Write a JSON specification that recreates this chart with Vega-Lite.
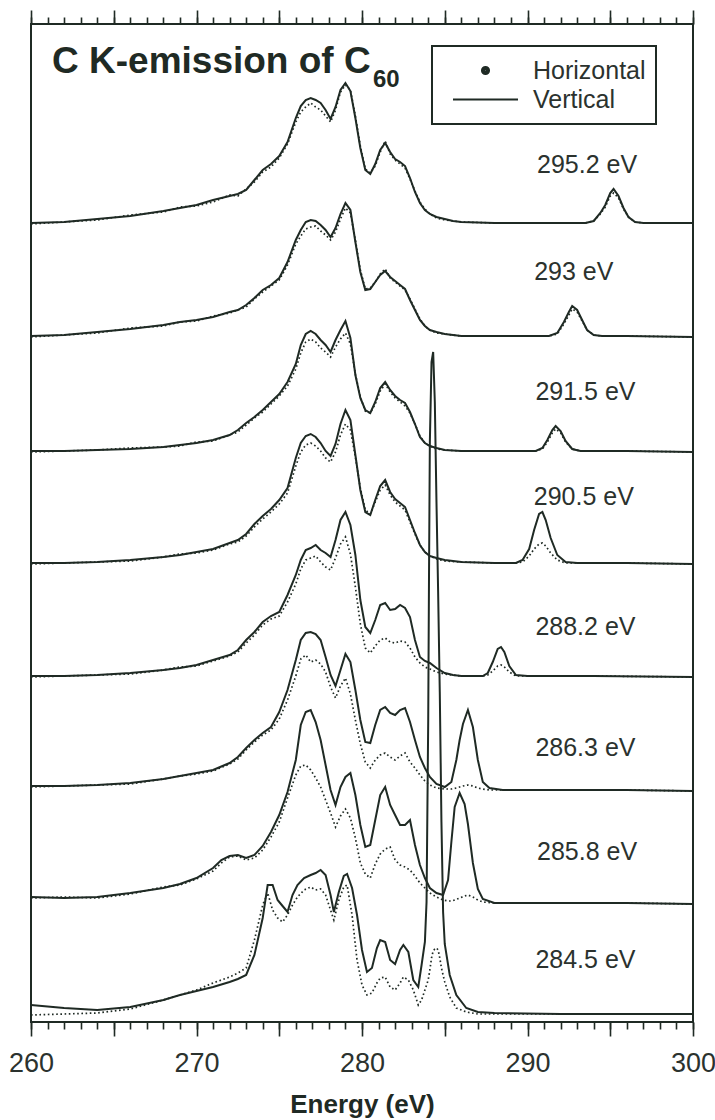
{
  "$schema": "https://vega.github.io/schema/vega-lite/v6.json",
  "width": 662,
  "height": 998,
  "autosize": {"type": "none"},
  "padding": {"left": 31, "top": 24, "right": 22, "bottom": 98},
  "background": "white",
  "config": {
    "view": {"stroke": "#1f2a24", "strokeWidth": 2},
    "axis": {"grid": false, "domain": false, "tickColor": "#1f2a24", "tickWidth": 1.6},
    "legend": {"strokeWidth": 2},
    "font": "Liberation Sans"
  },
  "datasets": {
    "labels": [
      {"label": "295.2 eV", "E": 293.6, "I": 85.7},
      {"label": "293 eV", "E": 292.8, "I": 75.0},
      {"label": "291.5 eV", "E": 293.5, "I": 63.0},
      {"label": "290.5 eV", "E": 293.4, "I": 52.5},
      {"label": "288.2 eV", "E": 293.5, "I": 39.5},
      {"label": "286.3 eV", "E": 293.5, "I": 27.4},
      {"label": "285.8 eV", "E": 293.6, "I": 17.0},
      {"label": "284.5 eV", "E": 293.5, "I": 6.2}
    ],
    "spectra": [
      {"run": "295.2 eV", "E": 260, "Vertical": 79.9, "Horizontal": 79.8},
      {"run": "295.2 eV", "E": 262, "Vertical": 80.0, "Horizontal": 80.0},
      {"run": "295.2 eV", "E": 264, "Vertical": 80.3, "Horizontal": 80.2},
      {"run": "295.2 eV", "E": 266, "Vertical": 80.6, "Horizontal": 80.7},
      {"run": "295.2 eV", "E": 268, "Vertical": 81.1, "Horizontal": 81.0},
      {"run": "295.2 eV", "E": 269, "Vertical": 81.4, "Horizontal": 81.5},
      {"run": "295.2 eV", "E": 270, "Vertical": 81.7, "Horizontal": 81.6},
      {"run": "295.2 eV", "E": 271, "Vertical": 82.2, "Horizontal": 82.0},
      {"run": "295.2 eV", "E": 272, "Vertical": 82.6, "Horizontal": 82.7},
      {"run": "295.2 eV", "E": 272.5, "Vertical": 82.8, "Horizontal": 82.6},
      {"run": "295.2 eV", "E": 273, "Vertical": 83.2, "Horizontal": 83.3},
      {"run": "295.2 eV", "E": 273.5, "Vertical": 84.2, "Horizontal": 84.0},
      {"run": "295.2 eV", "E": 274, "Vertical": 85.2, "Horizontal": 85.0},
      {"run": "295.2 eV", "E": 274.5, "Vertical": 85.8, "Horizontal": 85.5},
      {"run": "295.2 eV", "E": 275, "Vertical": 86.6, "Horizontal": 86.4},
      {"run": "295.2 eV", "E": 275.5, "Vertical": 88.0, "Horizontal": 87.8},
      {"run": "295.2 eV", "E": 276, "Vertical": 90.4, "Horizontal": 90.0},
      {"run": "295.2 eV", "E": 276.3, "Vertical": 91.6, "Horizontal": 91.0},
      {"run": "295.2 eV", "E": 276.6, "Vertical": 92.2, "Horizontal": 91.5},
      {"run": "295.2 eV", "E": 276.9, "Vertical": 92.4, "Horizontal": 91.9},
      {"run": "295.2 eV", "E": 277.2, "Vertical": 92.2, "Horizontal": 91.5},
      {"run": "295.2 eV", "E": 277.5, "Vertical": 91.9, "Horizontal": 91.2},
      {"run": "295.2 eV", "E": 277.8, "Vertical": 91.2, "Horizontal": 90.6},
      {"run": "295.2 eV", "E": 278.1, "Vertical": 90.3, "Horizontal": 90.0},
      {"run": "295.2 eV", "E": 278.4, "Vertical": 91.5, "Horizontal": 91.2},
      {"run": "295.2 eV", "E": 278.7, "Vertical": 93.2, "Horizontal": 93.0},
      {"run": "295.2 eV", "E": 279.0, "Vertical": 93.9, "Horizontal": 93.7},
      {"run": "295.2 eV", "E": 279.3, "Vertical": 93.1, "Horizontal": 93.2},
      {"run": "295.2 eV", "E": 279.6, "Vertical": 90.4, "Horizontal": 90.6},
      {"run": "295.2 eV", "E": 279.9, "Vertical": 87.4, "Horizontal": 87.6},
      {"run": "295.2 eV", "E": 280.2, "Vertical": 85.2, "Horizontal": 85.3},
      {"run": "295.2 eV", "E": 280.5, "Vertical": 84.8, "Horizontal": 84.9},
      {"run": "295.2 eV", "E": 280.8, "Vertical": 85.8, "Horizontal": 85.6},
      {"run": "295.2 eV", "E": 281.1, "Vertical": 87.2, "Horizontal": 87.0},
      {"run": "295.2 eV", "E": 281.4, "Vertical": 87.9, "Horizontal": 88.1},
      {"run": "295.2 eV", "E": 281.7, "Vertical": 87.0, "Horizontal": 86.8},
      {"run": "295.2 eV", "E": 282.0, "Vertical": 86.3, "Horizontal": 86.2},
      {"run": "295.2 eV", "E": 282.3, "Vertical": 86.0, "Horizontal": 85.8},
      {"run": "295.2 eV", "E": 282.6, "Vertical": 85.6, "Horizontal": 85.4},
      {"run": "295.2 eV", "E": 282.9, "Vertical": 84.4, "Horizontal": 84.3},
      {"run": "295.2 eV", "E": 283.2, "Vertical": 83.0, "Horizontal": 83.1},
      {"run": "295.2 eV", "E": 283.5, "Vertical": 81.9, "Horizontal": 82.0},
      {"run": "295.2 eV", "E": 283.8, "Vertical": 81.2, "Horizontal": 81.3},
      {"run": "295.2 eV", "E": 284.1, "Vertical": 80.8, "Horizontal": 80.8},
      {"run": "295.2 eV", "E": 284.5, "Vertical": 80.5, "Horizontal": 80.4},
      {"run": "295.2 eV", "E": 285, "Vertical": 80.3, "Horizontal": 80.2},
      {"run": "295.2 eV", "E": 285.5, "Vertical": 80.1, "Horizontal": 80.1},
      {"run": "295.2 eV", "E": 286, "Vertical": 80.0, "Horizontal": 80.0},
      {"run": "295.2 eV", "E": 288, "Vertical": 79.9, "Horizontal": 79.9},
      {"run": "295.2 eV", "E": 290, "Vertical": 79.9, "Horizontal": 79.9},
      {"run": "295.2 eV", "E": 292, "Vertical": 79.9, "Horizontal": 79.9},
      {"run": "295.2 eV", "E": 293.5, "Vertical": 79.9, "Horizontal": 79.9},
      {"run": "295.2 eV", "E": 294.0, "Vertical": 80.1, "Horizontal": 80.1},
      {"run": "295.2 eV", "E": 294.4, "Vertical": 80.9, "Horizontal": 80.8},
      {"run": "295.2 eV", "E": 294.7, "Vertical": 81.7, "Horizontal": 81.5},
      {"run": "295.2 eV", "E": 295.0, "Vertical": 82.9, "Horizontal": 82.6},
      {"run": "295.2 eV", "E": 295.2, "Vertical": 83.3, "Horizontal": 82.9},
      {"run": "295.2 eV", "E": 295.5, "Vertical": 82.6, "Horizontal": 82.4},
      {"run": "295.2 eV", "E": 295.8, "Vertical": 81.4, "Horizontal": 81.3},
      {"run": "295.2 eV", "E": 296.1, "Vertical": 80.5, "Horizontal": 80.5},
      {"run": "295.2 eV", "E": 296.5, "Vertical": 80.0, "Horizontal": 80.0},
      {"run": "295.2 eV", "E": 297, "Vertical": 79.9, "Horizontal": 79.9},
      {"run": "295.2 eV", "E": 300, "Vertical": 79.9, "Horizontal": 79.9},

      {"run": "293 eV", "E": 260, "Vertical": 68.6, "Horizontal": 68.5},
      {"run": "293 eV", "E": 262, "Vertical": 68.7, "Horizontal": 68.7},
      {"run": "293 eV", "E": 264, "Vertical": 69.0, "Horizontal": 68.9},
      {"run": "293 eV", "E": 266, "Vertical": 69.3, "Horizontal": 69.4},
      {"run": "293 eV", "E": 268, "Vertical": 69.7, "Horizontal": 69.6},
      {"run": "293 eV", "E": 269, "Vertical": 70.0, "Horizontal": 70.0},
      {"run": "293 eV", "E": 270, "Vertical": 70.2, "Horizontal": 70.1},
      {"run": "293 eV", "E": 271, "Vertical": 70.5, "Horizontal": 70.6},
      {"run": "293 eV", "E": 272, "Vertical": 71.0, "Horizontal": 70.9},
      {"run": "293 eV", "E": 272.5, "Vertical": 71.2, "Horizontal": 71.2},
      {"run": "293 eV", "E": 273, "Vertical": 71.7, "Horizontal": 71.5},
      {"run": "293 eV", "E": 273.5, "Vertical": 72.4, "Horizontal": 72.3},
      {"run": "293 eV", "E": 274, "Vertical": 73.2, "Horizontal": 73.0},
      {"run": "293 eV", "E": 274.5, "Vertical": 73.7, "Horizontal": 73.6},
      {"run": "293 eV", "E": 275, "Vertical": 74.4, "Horizontal": 74.2},
      {"run": "293 eV", "E": 275.5, "Vertical": 76.0, "Horizontal": 75.7},
      {"run": "293 eV", "E": 276, "Vertical": 78.2, "Horizontal": 77.8},
      {"run": "293 eV", "E": 276.3, "Vertical": 79.2, "Horizontal": 78.6},
      {"run": "293 eV", "E": 276.6, "Vertical": 80.0, "Horizontal": 79.3},
      {"run": "293 eV", "E": 276.9, "Vertical": 80.2, "Horizontal": 79.5},
      {"run": "293 eV", "E": 277.2, "Vertical": 80.1, "Horizontal": 79.6},
      {"run": "293 eV", "E": 277.5, "Vertical": 79.7, "Horizontal": 79.1},
      {"run": "293 eV", "E": 277.8, "Vertical": 79.2, "Horizontal": 78.7},
      {"run": "293 eV", "E": 278.1, "Vertical": 78.5, "Horizontal": 78.2},
      {"run": "293 eV", "E": 278.4, "Vertical": 79.4, "Horizontal": 79.0},
      {"run": "293 eV", "E": 278.7, "Vertical": 80.8, "Horizontal": 80.3},
      {"run": "293 eV", "E": 279.0, "Vertical": 81.9, "Horizontal": 81.4},
      {"run": "293 eV", "E": 279.3, "Vertical": 81.2, "Horizontal": 80.9},
      {"run": "293 eV", "E": 279.6, "Vertical": 78.0, "Horizontal": 78.2},
      {"run": "293 eV", "E": 279.9, "Vertical": 75.0, "Horizontal": 75.2},
      {"run": "293 eV", "E": 280.2, "Vertical": 73.2, "Horizontal": 73.3},
      {"run": "293 eV", "E": 280.5, "Vertical": 73.3, "Horizontal": 73.4},
      {"run": "293 eV", "E": 280.8, "Vertical": 74.0, "Horizontal": 74.0},
      {"run": "293 eV", "E": 281.1, "Vertical": 74.7, "Horizontal": 74.8},
      {"run": "293 eV", "E": 281.4, "Vertical": 75.1, "Horizontal": 75.3},
      {"run": "293 eV", "E": 281.7, "Vertical": 74.5, "Horizontal": 74.4},
      {"run": "293 eV", "E": 282.0, "Vertical": 74.1, "Horizontal": 74.0},
      {"run": "293 eV", "E": 282.3, "Vertical": 73.7, "Horizontal": 73.6},
      {"run": "293 eV", "E": 282.6, "Vertical": 73.3, "Horizontal": 73.2},
      {"run": "293 eV", "E": 282.9, "Vertical": 72.2, "Horizontal": 72.3},
      {"run": "293 eV", "E": 283.2, "Vertical": 71.2, "Horizontal": 71.3},
      {"run": "293 eV", "E": 283.5, "Vertical": 70.2, "Horizontal": 70.3},
      {"run": "293 eV", "E": 283.8, "Vertical": 69.6, "Horizontal": 69.6},
      {"run": "293 eV", "E": 284.1, "Vertical": 69.2, "Horizontal": 69.2},
      {"run": "293 eV", "E": 284.5, "Vertical": 69.0, "Horizontal": 68.9},
      {"run": "293 eV", "E": 285, "Vertical": 68.8, "Horizontal": 68.8},
      {"run": "293 eV", "E": 285.5, "Vertical": 68.7, "Horizontal": 68.7},
      {"run": "293 eV", "E": 286, "Vertical": 68.6, "Horizontal": 68.6},
      {"run": "293 eV", "E": 288, "Vertical": 68.6, "Horizontal": 68.6},
      {"run": "293 eV", "E": 290, "Vertical": 68.6, "Horizontal": 68.6},
      {"run": "293 eV", "E": 291.3, "Vertical": 68.6, "Horizontal": 68.6},
      {"run": "293 eV", "E": 291.8, "Vertical": 68.9, "Horizontal": 68.8},
      {"run": "293 eV", "E": 292.2, "Vertical": 70.0, "Horizontal": 69.8},
      {"run": "293 eV", "E": 292.5, "Vertical": 71.0, "Horizontal": 70.7},
      {"run": "293 eV", "E": 292.7, "Vertical": 71.6, "Horizontal": 71.3},
      {"run": "293 eV", "E": 293.0, "Vertical": 71.2, "Horizontal": 71.0},
      {"run": "293 eV", "E": 293.3, "Vertical": 70.2, "Horizontal": 70.1},
      {"run": "293 eV", "E": 293.6, "Vertical": 69.2, "Horizontal": 69.2},
      {"run": "293 eV", "E": 294.0, "Vertical": 68.7, "Horizontal": 68.7},
      {"run": "293 eV", "E": 294.5, "Vertical": 68.6, "Horizontal": 68.6},
      {"run": "293 eV", "E": 296, "Vertical": 68.6, "Horizontal": 68.6},
      {"run": "293 eV", "E": 300, "Vertical": 68.5, "Horizontal": 68.5},

      {"run": "291.5 eV", "E": 260, "Vertical": 57.1, "Horizontal": 57.0},
      {"run": "291.5 eV", "E": 262, "Vertical": 57.1, "Horizontal": 57.1},
      {"run": "291.5 eV", "E": 264, "Vertical": 57.2, "Horizontal": 57.2},
      {"run": "291.5 eV", "E": 266, "Vertical": 57.3, "Horizontal": 57.4},
      {"run": "291.5 eV", "E": 268, "Vertical": 57.5, "Horizontal": 57.5},
      {"run": "291.5 eV", "E": 269, "Vertical": 57.7, "Horizontal": 57.6},
      {"run": "291.5 eV", "E": 270, "Vertical": 57.9, "Horizontal": 58.0},
      {"run": "291.5 eV", "E": 271, "Vertical": 58.2, "Horizontal": 58.1},
      {"run": "291.5 eV", "E": 272, "Vertical": 58.7, "Horizontal": 58.7},
      {"run": "291.5 eV", "E": 272.5, "Vertical": 59.2, "Horizontal": 59.0},
      {"run": "291.5 eV", "E": 273, "Vertical": 59.9, "Horizontal": 59.7},
      {"run": "291.5 eV", "E": 273.5, "Vertical": 60.5, "Horizontal": 60.4},
      {"run": "291.5 eV", "E": 274, "Vertical": 61.2, "Horizontal": 61.0},
      {"run": "291.5 eV", "E": 274.5, "Vertical": 62.0, "Horizontal": 61.8},
      {"run": "291.5 eV", "E": 275, "Vertical": 62.8, "Horizontal": 62.6},
      {"run": "291.5 eV", "E": 275.5, "Vertical": 64.0, "Horizontal": 63.6},
      {"run": "291.5 eV", "E": 276, "Vertical": 65.8, "Horizontal": 65.3},
      {"run": "291.5 eV", "E": 276.3, "Vertical": 67.7, "Horizontal": 66.9},
      {"run": "291.5 eV", "E": 276.6, "Vertical": 68.8, "Horizontal": 68.0},
      {"run": "291.5 eV", "E": 276.9, "Vertical": 69.1, "Horizontal": 68.3},
      {"run": "291.5 eV", "E": 277.2, "Vertical": 68.8, "Horizontal": 68.0},
      {"run": "291.5 eV", "E": 277.5, "Vertical": 68.2, "Horizontal": 67.4},
      {"run": "291.5 eV", "E": 277.8, "Vertical": 67.7, "Horizontal": 67.0},
      {"run": "291.5 eV", "E": 278.1, "Vertical": 67.0, "Horizontal": 66.5},
      {"run": "291.5 eV", "E": 278.4, "Vertical": 68.2, "Horizontal": 67.5},
      {"run": "291.5 eV", "E": 278.7, "Vertical": 69.2, "Horizontal": 68.3},
      {"run": "291.5 eV", "E": 279.0, "Vertical": 70.1, "Horizontal": 68.9},
      {"run": "291.5 eV", "E": 279.3, "Vertical": 68.4, "Horizontal": 67.8},
      {"run": "291.5 eV", "E": 279.6, "Vertical": 64.7, "Horizontal": 64.8},
      {"run": "291.5 eV", "E": 279.9, "Vertical": 62.4, "Horizontal": 62.5},
      {"run": "291.5 eV", "E": 280.2, "Vertical": 61.2, "Horizontal": 61.1},
      {"run": "291.5 eV", "E": 280.5, "Vertical": 60.9, "Horizontal": 60.9},
      {"run": "291.5 eV", "E": 280.8, "Vertical": 62.0, "Horizontal": 61.8},
      {"run": "291.5 eV", "E": 281.1, "Vertical": 63.4, "Horizontal": 63.1},
      {"run": "291.5 eV", "E": 281.4, "Vertical": 64.0, "Horizontal": 63.8},
      {"run": "291.5 eV", "E": 281.7, "Vertical": 63.2, "Horizontal": 63.0},
      {"run": "291.5 eV", "E": 282.0, "Vertical": 62.6, "Horizontal": 62.4},
      {"run": "291.5 eV", "E": 282.3, "Vertical": 62.2, "Horizontal": 62.0},
      {"run": "291.5 eV", "E": 282.6, "Vertical": 61.9, "Horizontal": 61.6},
      {"run": "291.5 eV", "E": 282.9, "Vertical": 61.0, "Horizontal": 60.9},
      {"run": "291.5 eV", "E": 283.2, "Vertical": 59.8, "Horizontal": 59.8},
      {"run": "291.5 eV", "E": 283.5, "Vertical": 58.5, "Horizontal": 58.6},
      {"run": "291.5 eV", "E": 283.8, "Vertical": 57.9, "Horizontal": 57.9},
      {"run": "291.5 eV", "E": 284.1, "Vertical": 57.6, "Horizontal": 57.6},
      {"run": "291.5 eV", "E": 284.5, "Vertical": 57.4, "Horizontal": 57.3},
      {"run": "291.5 eV", "E": 285, "Vertical": 57.2, "Horizontal": 57.2},
      {"run": "291.5 eV", "E": 286, "Vertical": 57.1, "Horizontal": 57.1},
      {"run": "291.5 eV", "E": 288, "Vertical": 57.1, "Horizontal": 57.1},
      {"run": "291.5 eV", "E": 290, "Vertical": 57.1, "Horizontal": 57.1},
      {"run": "291.5 eV", "E": 290.5, "Vertical": 57.1, "Horizontal": 57.1},
      {"run": "291.5 eV", "E": 290.9, "Vertical": 57.4, "Horizontal": 57.3},
      {"run": "291.5 eV", "E": 291.2, "Vertical": 58.2, "Horizontal": 58.0},
      {"run": "291.5 eV", "E": 291.5, "Vertical": 59.2, "Horizontal": 58.9},
      {"run": "291.5 eV", "E": 291.7, "Vertical": 59.6, "Horizontal": 59.3},
      {"run": "291.5 eV", "E": 292.0, "Vertical": 59.1, "Horizontal": 58.9},
      {"run": "291.5 eV", "E": 292.3, "Vertical": 58.1, "Horizontal": 58.0},
      {"run": "291.5 eV", "E": 292.7, "Vertical": 57.3, "Horizontal": 57.3},
      {"run": "291.5 eV", "E": 293.2, "Vertical": 57.1, "Horizontal": 57.1},
      {"run": "291.5 eV", "E": 296, "Vertical": 57.1, "Horizontal": 57.1},
      {"run": "291.5 eV", "E": 300, "Vertical": 57.0, "Horizontal": 57.0},

      {"run": "290.5 eV", "E": 260, "Vertical": 45.9, "Horizontal": 45.8},
      {"run": "290.5 eV", "E": 262, "Vertical": 45.9, "Horizontal": 45.9},
      {"run": "290.5 eV", "E": 264, "Vertical": 46.0, "Horizontal": 46.0},
      {"run": "290.5 eV", "E": 266, "Vertical": 46.2, "Horizontal": 46.1},
      {"run": "290.5 eV", "E": 268, "Vertical": 46.5, "Horizontal": 46.5},
      {"run": "290.5 eV", "E": 269, "Vertical": 46.7, "Horizontal": 46.8},
      {"run": "290.5 eV", "E": 270, "Vertical": 47.0, "Horizontal": 46.9},
      {"run": "290.5 eV", "E": 271, "Vertical": 47.3, "Horizontal": 47.2},
      {"run": "290.5 eV", "E": 272, "Vertical": 47.9, "Horizontal": 47.8},
      {"run": "290.5 eV", "E": 272.5, "Vertical": 48.2, "Horizontal": 48.0},
      {"run": "290.5 eV", "E": 273, "Vertical": 48.8, "Horizontal": 48.6},
      {"run": "290.5 eV", "E": 273.5, "Vertical": 49.8, "Horizontal": 49.5},
      {"run": "290.5 eV", "E": 274, "Vertical": 50.6, "Horizontal": 50.3},
      {"run": "290.5 eV", "E": 274.5, "Vertical": 51.3, "Horizontal": 51.0},
      {"run": "290.5 eV", "E": 275, "Vertical": 52.2, "Horizontal": 51.8},
      {"run": "290.5 eV", "E": 275.5, "Vertical": 53.4, "Horizontal": 52.9},
      {"run": "290.5 eV", "E": 276, "Vertical": 56.4, "Horizontal": 55.6},
      {"run": "290.5 eV", "E": 276.3, "Vertical": 57.9, "Horizontal": 57.0},
      {"run": "290.5 eV", "E": 276.6, "Vertical": 58.6, "Horizontal": 57.7},
      {"run": "290.5 eV", "E": 276.9, "Vertical": 58.8, "Horizontal": 57.9},
      {"run": "290.5 eV", "E": 277.2, "Vertical": 58.5, "Horizontal": 57.6},
      {"run": "290.5 eV", "E": 277.5, "Vertical": 57.9, "Horizontal": 57.1},
      {"run": "290.5 eV", "E": 277.8, "Vertical": 57.1, "Horizontal": 56.4},
      {"run": "290.5 eV", "E": 278.1, "Vertical": 56.6, "Horizontal": 56.0},
      {"run": "290.5 eV", "E": 278.4, "Vertical": 57.8, "Horizontal": 57.0},
      {"run": "290.5 eV", "E": 278.7, "Vertical": 59.8, "Horizontal": 58.7},
      {"run": "290.5 eV", "E": 279.0, "Vertical": 61.2, "Horizontal": 59.8},
      {"run": "290.5 eV", "E": 279.3, "Vertical": 60.2, "Horizontal": 59.2},
      {"run": "290.5 eV", "E": 279.6, "Vertical": 56.7, "Horizontal": 56.5},
      {"run": "290.5 eV", "E": 279.9, "Vertical": 53.2, "Horizontal": 53.4},
      {"run": "290.5 eV", "E": 280.2, "Vertical": 51.0, "Horizontal": 51.2},
      {"run": "290.5 eV", "E": 280.5, "Vertical": 50.7, "Horizontal": 50.8},
      {"run": "290.5 eV", "E": 280.8, "Vertical": 52.2, "Horizontal": 52.0},
      {"run": "290.5 eV", "E": 281.1, "Vertical": 53.6, "Horizontal": 53.2},
      {"run": "290.5 eV", "E": 281.4, "Vertical": 54.2, "Horizontal": 53.7},
      {"run": "290.5 eV", "E": 281.7, "Vertical": 53.0, "Horizontal": 52.7},
      {"run": "290.5 eV", "E": 282.0, "Vertical": 52.3, "Horizontal": 52.0},
      {"run": "290.5 eV", "E": 282.3, "Vertical": 51.9, "Horizontal": 51.6},
      {"run": "290.5 eV", "E": 282.6, "Vertical": 51.5, "Horizontal": 51.2},
      {"run": "290.5 eV", "E": 282.9, "Vertical": 50.2, "Horizontal": 50.0},
      {"run": "290.5 eV", "E": 283.2, "Vertical": 48.9, "Horizontal": 48.8},
      {"run": "290.5 eV", "E": 283.5, "Vertical": 47.7, "Horizontal": 47.7},
      {"run": "290.5 eV", "E": 283.8, "Vertical": 47.0, "Horizontal": 47.0},
      {"run": "290.5 eV", "E": 284.1, "Vertical": 46.6, "Horizontal": 46.6},
      {"run": "290.5 eV", "E": 284.5, "Vertical": 46.4, "Horizontal": 46.3},
      {"run": "290.5 eV", "E": 285, "Vertical": 46.2, "Horizontal": 46.1},
      {"run": "290.5 eV", "E": 286, "Vertical": 46.0, "Horizontal": 46.0},
      {"run": "290.5 eV", "E": 288, "Vertical": 45.9, "Horizontal": 45.9},
      {"run": "290.5 eV", "E": 289.3, "Vertical": 45.9, "Horizontal": 45.9},
      {"run": "290.5 eV", "E": 289.7, "Vertical": 46.2, "Horizontal": 46.0},
      {"run": "290.5 eV", "E": 290.1, "Vertical": 47.3, "Horizontal": 46.6},
      {"run": "290.5 eV", "E": 290.4, "Vertical": 49.2, "Horizontal": 47.3},
      {"run": "290.5 eV", "E": 290.7, "Vertical": 50.8, "Horizontal": 47.8},
      {"run": "290.5 eV", "E": 290.9, "Vertical": 51.0, "Horizontal": 47.9},
      {"run": "290.5 eV", "E": 291.1, "Vertical": 50.2, "Horizontal": 47.6},
      {"run": "290.5 eV", "E": 291.4, "Vertical": 48.4, "Horizontal": 46.9},
      {"run": "290.5 eV", "E": 291.8, "Vertical": 46.7, "Horizontal": 46.2},
      {"run": "290.5 eV", "E": 292.3, "Vertical": 46.0, "Horizontal": 45.9},
      {"run": "290.5 eV", "E": 293, "Vertical": 45.9, "Horizontal": 45.9},
      {"run": "290.5 eV", "E": 296, "Vertical": 45.9, "Horizontal": 45.9},
      {"run": "290.5 eV", "E": 300, "Vertical": 45.8, "Horizontal": 45.8},

      {"run": "288.2 eV", "E": 260, "Vertical": 34.6, "Horizontal": 34.5},
      {"run": "288.2 eV", "E": 262, "Vertical": 34.6, "Horizontal": 34.6},
      {"run": "288.2 eV", "E": 264, "Vertical": 34.7, "Horizontal": 34.7},
      {"run": "288.2 eV", "E": 266, "Vertical": 34.9, "Horizontal": 34.8},
      {"run": "288.2 eV", "E": 268, "Vertical": 35.2, "Horizontal": 35.2},
      {"run": "288.2 eV", "E": 269, "Vertical": 35.4, "Horizontal": 35.5},
      {"run": "288.2 eV", "E": 270, "Vertical": 35.7, "Horizontal": 35.6},
      {"run": "288.2 eV", "E": 271, "Vertical": 36.2, "Horizontal": 36.1},
      {"run": "288.2 eV", "E": 272, "Vertical": 36.7, "Horizontal": 36.6},
      {"run": "288.2 eV", "E": 272.5, "Vertical": 37.2, "Horizontal": 37.0},
      {"run": "288.2 eV", "E": 273, "Vertical": 38.2, "Horizontal": 37.9},
      {"run": "288.2 eV", "E": 273.5, "Vertical": 39.0, "Horizontal": 38.7},
      {"run": "288.2 eV", "E": 274, "Vertical": 40.0, "Horizontal": 39.7},
      {"run": "288.2 eV", "E": 274.5, "Vertical": 40.6, "Horizontal": 40.3},
      {"run": "288.2 eV", "E": 275, "Vertical": 41.0, "Horizontal": 40.6},
      {"run": "288.2 eV", "E": 275.5, "Vertical": 42.7, "Horizontal": 42.0},
      {"run": "288.2 eV", "E": 276, "Vertical": 44.7, "Horizontal": 43.8},
      {"run": "288.2 eV", "E": 276.3, "Vertical": 46.2, "Horizontal": 45.3},
      {"run": "288.2 eV", "E": 276.6, "Vertical": 47.2, "Horizontal": 46.2},
      {"run": "288.2 eV", "E": 276.9, "Vertical": 47.4, "Horizontal": 46.4},
      {"run": "288.2 eV", "E": 277.2, "Vertical": 47.7, "Horizontal": 46.6},
      {"run": "288.2 eV", "E": 277.5, "Vertical": 47.2, "Horizontal": 46.0},
      {"run": "288.2 eV", "E": 277.8, "Vertical": 46.9, "Horizontal": 45.5},
      {"run": "288.2 eV", "E": 278.1, "Vertical": 46.5, "Horizontal": 45.2},
      {"run": "288.2 eV", "E": 278.4, "Vertical": 48.2, "Horizontal": 46.4},
      {"run": "288.2 eV", "E": 278.7, "Vertical": 50.2, "Horizontal": 47.8},
      {"run": "288.2 eV", "E": 279.0, "Vertical": 51.0, "Horizontal": 48.5},
      {"run": "288.2 eV", "E": 279.3, "Vertical": 49.7, "Horizontal": 46.8},
      {"run": "288.2 eV", "E": 279.6, "Vertical": 46.7, "Horizontal": 43.5},
      {"run": "288.2 eV", "E": 279.9, "Vertical": 42.2, "Horizontal": 39.8},
      {"run": "288.2 eV", "E": 280.2, "Vertical": 39.5, "Horizontal": 37.4},
      {"run": "288.2 eV", "E": 280.5, "Vertical": 38.9, "Horizontal": 36.9},
      {"run": "288.2 eV", "E": 280.8, "Vertical": 40.2, "Horizontal": 37.6},
      {"run": "288.2 eV", "E": 281.1, "Vertical": 41.7, "Horizontal": 38.2},
      {"run": "288.2 eV", "E": 281.4, "Vertical": 41.9, "Horizontal": 38.4},
      {"run": "288.2 eV", "E": 281.7, "Vertical": 41.2, "Horizontal": 38.0},
      {"run": "288.2 eV", "E": 282.0, "Vertical": 41.3, "Horizontal": 37.9},
      {"run": "288.2 eV", "E": 282.3, "Vertical": 41.7, "Horizontal": 38.1},
      {"run": "288.2 eV", "E": 282.6, "Vertical": 41.4, "Horizontal": 38.0},
      {"run": "288.2 eV", "E": 282.9, "Vertical": 40.5, "Horizontal": 37.4},
      {"run": "288.2 eV", "E": 283.2, "Vertical": 38.2, "Horizontal": 36.5},
      {"run": "288.2 eV", "E": 283.5, "Vertical": 36.5, "Horizontal": 35.9},
      {"run": "288.2 eV", "E": 283.8, "Vertical": 36.1, "Horizontal": 35.5},
      {"run": "288.2 eV", "E": 284.1, "Vertical": 35.9, "Horizontal": 35.3},
      {"run": "288.2 eV", "E": 284.5, "Vertical": 35.4, "Horizontal": 35.0},
      {"run": "288.2 eV", "E": 285, "Vertical": 34.9, "Horizontal": 34.8},
      {"run": "288.2 eV", "E": 285.5, "Vertical": 34.7, "Horizontal": 34.7},
      {"run": "288.2 eV", "E": 286, "Vertical": 34.6, "Horizontal": 34.6},
      {"run": "288.2 eV", "E": 287.3, "Vertical": 34.6, "Horizontal": 34.6},
      {"run": "288.2 eV", "E": 287.6, "Vertical": 34.9, "Horizontal": 34.7},
      {"run": "288.2 eV", "E": 287.9, "Vertical": 36.0, "Horizontal": 35.1},
      {"run": "288.2 eV", "E": 288.2, "Vertical": 37.3, "Horizontal": 35.6},
      {"run": "288.2 eV", "E": 288.4, "Vertical": 37.5, "Horizontal": 35.7},
      {"run": "288.2 eV", "E": 288.6, "Vertical": 37.0, "Horizontal": 35.5},
      {"run": "288.2 eV", "E": 288.9, "Vertical": 35.6, "Horizontal": 35.0},
      {"run": "288.2 eV", "E": 289.3, "Vertical": 34.7, "Horizontal": 34.6},
      {"run": "288.2 eV", "E": 290, "Vertical": 34.6, "Horizontal": 34.6},
      {"run": "288.2 eV", "E": 294, "Vertical": 34.6, "Horizontal": 34.6},
      {"run": "288.2 eV", "E": 300, "Vertical": 34.5, "Horizontal": 34.5},

      {"run": "286.3 eV", "E": 260, "Vertical": 23.6, "Horizontal": 23.5},
      {"run": "286.3 eV", "E": 262, "Vertical": 23.6, "Horizontal": 23.6},
      {"run": "286.3 eV", "E": 264, "Vertical": 23.7, "Horizontal": 23.7},
      {"run": "286.3 eV", "E": 266, "Vertical": 23.9, "Horizontal": 23.8},
      {"run": "286.3 eV", "E": 268, "Vertical": 24.3, "Horizontal": 24.3},
      {"run": "286.3 eV", "E": 269, "Vertical": 24.6, "Horizontal": 24.6},
      {"run": "286.3 eV", "E": 270, "Vertical": 24.9, "Horizontal": 24.8},
      {"run": "286.3 eV", "E": 271, "Vertical": 25.2, "Horizontal": 25.1},
      {"run": "286.3 eV", "E": 272, "Vertical": 25.9, "Horizontal": 25.8},
      {"run": "286.3 eV", "E": 272.5, "Vertical": 26.5, "Horizontal": 26.3},
      {"run": "286.3 eV", "E": 273, "Vertical": 27.4, "Horizontal": 27.2},
      {"run": "286.3 eV", "E": 273.5, "Vertical": 28.2, "Horizontal": 28.0},
      {"run": "286.3 eV", "E": 274, "Vertical": 28.9, "Horizontal": 28.7},
      {"run": "286.3 eV", "E": 274.5, "Vertical": 29.5, "Horizontal": 29.2},
      {"run": "286.3 eV", "E": 275, "Vertical": 31.0, "Horizontal": 30.3},
      {"run": "286.3 eV", "E": 275.5, "Vertical": 33.2, "Horizontal": 32.2},
      {"run": "286.3 eV", "E": 276, "Vertical": 36.2, "Horizontal": 34.6},
      {"run": "286.3 eV", "E": 276.3, "Vertical": 38.2, "Horizontal": 36.3},
      {"run": "286.3 eV", "E": 276.6, "Vertical": 38.9, "Horizontal": 36.7},
      {"run": "286.3 eV", "E": 276.9, "Vertical": 39.0, "Horizontal": 36.0},
      {"run": "286.3 eV", "E": 277.2, "Vertical": 38.8, "Horizontal": 36.2},
      {"run": "286.3 eV", "E": 277.5, "Vertical": 38.2, "Horizontal": 35.8},
      {"run": "286.3 eV", "E": 277.8, "Vertical": 36.5, "Horizontal": 35.0},
      {"run": "286.3 eV", "E": 278.1, "Vertical": 34.7, "Horizontal": 33.5},
      {"run": "286.3 eV", "E": 278.4, "Vertical": 33.6, "Horizontal": 32.4},
      {"run": "286.3 eV", "E": 278.7, "Vertical": 35.2, "Horizontal": 33.6},
      {"run": "286.3 eV", "E": 279.0, "Vertical": 36.8, "Horizontal": 34.4},
      {"run": "286.3 eV", "E": 279.3, "Vertical": 36.0, "Horizontal": 32.8},
      {"run": "286.3 eV", "E": 279.6, "Vertical": 33.2, "Horizontal": 30.2},
      {"run": "286.3 eV", "E": 279.9, "Vertical": 30.2, "Horizontal": 27.8},
      {"run": "286.3 eV", "E": 280.2, "Vertical": 28.0, "Horizontal": 26.0},
      {"run": "286.3 eV", "E": 280.5, "Vertical": 27.9, "Horizontal": 25.4},
      {"run": "286.3 eV", "E": 280.8, "Vertical": 29.7, "Horizontal": 26.2},
      {"run": "286.3 eV", "E": 281.1, "Vertical": 31.2, "Horizontal": 26.7},
      {"run": "286.3 eV", "E": 281.4, "Vertical": 31.5, "Horizontal": 26.9},
      {"run": "286.3 eV", "E": 281.7, "Vertical": 30.9, "Horizontal": 26.5},
      {"run": "286.3 eV", "E": 282.0, "Vertical": 30.7, "Horizontal": 26.2},
      {"run": "286.3 eV", "E": 282.3, "Vertical": 31.2, "Horizontal": 26.6},
      {"run": "286.3 eV", "E": 282.6, "Vertical": 31.4, "Horizontal": 26.9},
      {"run": "286.3 eV", "E": 282.9, "Vertical": 30.0, "Horizontal": 26.0},
      {"run": "286.3 eV", "E": 283.2, "Vertical": 28.2, "Horizontal": 25.4},
      {"run": "286.3 eV", "E": 283.5, "Vertical": 26.5, "Horizontal": 24.7},
      {"run": "286.3 eV", "E": 283.8, "Vertical": 25.4, "Horizontal": 24.1},
      {"run": "286.3 eV", "E": 284.1, "Vertical": 24.5, "Horizontal": 23.7},
      {"run": "286.3 eV", "E": 284.5, "Vertical": 23.8, "Horizontal": 23.4},
      {"run": "286.3 eV", "E": 285.0, "Vertical": 23.5, "Horizontal": 23.3},
      {"run": "286.3 eV", "E": 285.4, "Vertical": 24.0, "Horizontal": 23.3},
      {"run": "286.3 eV", "E": 285.7, "Vertical": 26.2, "Horizontal": 23.4},
      {"run": "286.3 eV", "E": 285.9, "Vertical": 28.2, "Horizontal": 23.5},
      {"run": "286.3 eV", "E": 286.1, "Vertical": 29.8, "Horizontal": 23.6},
      {"run": "286.3 eV", "E": 286.4, "Vertical": 31.2, "Horizontal": 23.7},
      {"run": "286.3 eV", "E": 286.7, "Vertical": 29.5, "Horizontal": 23.6},
      {"run": "286.3 eV", "E": 287.0, "Vertical": 26.2, "Horizontal": 23.4},
      {"run": "286.3 eV", "E": 287.3, "Vertical": 24.0, "Horizontal": 23.3},
      {"run": "286.3 eV", "E": 287.7, "Vertical": 23.4, "Horizontal": 23.2},
      {"run": "286.3 eV", "E": 288.5, "Vertical": 23.2, "Horizontal": 23.2},
      {"run": "286.3 eV", "E": 292, "Vertical": 23.2, "Horizontal": 23.2},
      {"run": "286.3 eV", "E": 296, "Vertical": 23.2, "Horizontal": 23.2},
      {"run": "286.3 eV", "E": 300, "Vertical": 23.1, "Horizontal": 23.1},

      {"run": "285.8 eV", "E": 260, "Vertical": 12.5, "Horizontal": 12.4},
      {"run": "285.8 eV", "E": 262, "Vertical": 12.4, "Horizontal": 12.5},
      {"run": "285.8 eV", "E": 264, "Vertical": 12.5, "Horizontal": 12.4},
      {"run": "285.8 eV", "E": 266, "Vertical": 12.9, "Horizontal": 12.8},
      {"run": "285.8 eV", "E": 268, "Vertical": 13.4, "Horizontal": 13.5},
      {"run": "285.8 eV", "E": 269, "Vertical": 13.8, "Horizontal": 13.7},
      {"run": "285.8 eV", "E": 270, "Vertical": 14.4, "Horizontal": 14.3},
      {"run": "285.8 eV", "E": 271, "Vertical": 15.4, "Horizontal": 15.1},
      {"run": "285.8 eV", "E": 271.5, "Vertical": 16.2, "Horizontal": 15.9},
      {"run": "285.8 eV", "E": 272, "Vertical": 16.6, "Horizontal": 16.5},
      {"run": "285.8 eV", "E": 272.5, "Vertical": 16.7, "Horizontal": 16.6},
      {"run": "285.8 eV", "E": 273, "Vertical": 16.4, "Horizontal": 16.2},
      {"run": "285.8 eV", "E": 273.5, "Vertical": 16.7, "Horizontal": 16.4},
      {"run": "285.8 eV", "E": 274, "Vertical": 17.6, "Horizontal": 17.2},
      {"run": "285.8 eV", "E": 274.5, "Vertical": 19.0, "Horizontal": 18.5},
      {"run": "285.8 eV", "E": 275, "Vertical": 20.7, "Horizontal": 20.0},
      {"run": "285.8 eV", "E": 275.5, "Vertical": 23.0, "Horizontal": 22.4},
      {"run": "285.8 eV", "E": 276, "Vertical": 26.2, "Horizontal": 24.7},
      {"run": "285.8 eV", "E": 276.3, "Vertical": 29.7, "Horizontal": 25.6},
      {"run": "285.8 eV", "E": 276.6, "Vertical": 31.0, "Horizontal": 25.7},
      {"run": "285.8 eV", "E": 276.9, "Vertical": 31.2, "Horizontal": 25.2},
      {"run": "285.8 eV", "E": 277.2, "Vertical": 30.0, "Horizontal": 24.4},
      {"run": "285.8 eV", "E": 277.5, "Vertical": 28.2, "Horizontal": 23.5},
      {"run": "285.8 eV", "E": 277.8, "Vertical": 25.7, "Horizontal": 22.2},
      {"run": "285.8 eV", "E": 278.1, "Vertical": 23.2, "Horizontal": 20.9},
      {"run": "285.8 eV", "E": 278.4, "Vertical": 21.7, "Horizontal": 19.5},
      {"run": "285.8 eV", "E": 278.7, "Vertical": 23.5, "Horizontal": 20.6},
      {"run": "285.8 eV", "E": 279.0, "Vertical": 24.5, "Horizontal": 21.3},
      {"run": "285.8 eV", "E": 279.3, "Vertical": 24.9, "Horizontal": 20.4},
      {"run": "285.8 eV", "E": 279.6, "Vertical": 22.7, "Horizontal": 18.4},
      {"run": "285.8 eV", "E": 279.9, "Vertical": 19.7, "Horizontal": 15.9},
      {"run": "285.8 eV", "E": 280.2, "Vertical": 17.5, "Horizontal": 14.8},
      {"run": "285.8 eV", "E": 280.5, "Vertical": 17.7, "Horizontal": 14.4},
      {"run": "285.8 eV", "E": 280.8, "Vertical": 20.2, "Horizontal": 15.8},
      {"run": "285.8 eV", "E": 281.1, "Vertical": 22.7, "Horizontal": 16.8},
      {"run": "285.8 eV", "E": 281.4, "Vertical": 23.5, "Horizontal": 17.3},
      {"run": "285.8 eV", "E": 281.7, "Vertical": 21.7, "Horizontal": 17.5},
      {"run": "285.8 eV", "E": 282.0, "Vertical": 20.7, "Horizontal": 16.2},
      {"run": "285.8 eV", "E": 282.3, "Vertical": 19.7, "Horizontal": 15.7},
      {"run": "285.8 eV", "E": 282.6, "Vertical": 19.7, "Horizontal": 15.5},
      {"run": "285.8 eV", "E": 282.9, "Vertical": 20.2, "Horizontal": 15.2},
      {"run": "285.8 eV", "E": 283.2, "Vertical": 17.7, "Horizontal": 14.6},
      {"run": "285.8 eV", "E": 283.5, "Vertical": 15.7, "Horizontal": 13.9},
      {"run": "285.8 eV", "E": 283.8, "Vertical": 14.4, "Horizontal": 13.4},
      {"run": "285.8 eV", "E": 284.1, "Vertical": 13.4, "Horizontal": 12.9},
      {"run": "285.8 eV", "E": 284.5, "Vertical": 12.9, "Horizontal": 12.5},
      {"run": "285.8 eV", "E": 284.9, "Vertical": 12.7, "Horizontal": 12.2},
      {"run": "285.8 eV", "E": 285.2, "Vertical": 14.2, "Horizontal": 12.1},
      {"run": "285.8 eV", "E": 285.4, "Vertical": 18.0, "Horizontal": 12.1},
      {"run": "285.8 eV", "E": 285.6, "Vertical": 21.5, "Horizontal": 12.2},
      {"run": "285.8 eV", "E": 285.9, "Vertical": 22.9, "Horizontal": 12.4},
      {"run": "285.8 eV", "E": 286.2, "Vertical": 21.8, "Horizontal": 12.6},
      {"run": "285.8 eV", "E": 286.4, "Vertical": 19.8, "Horizontal": 12.7},
      {"run": "285.8 eV", "E": 286.7, "Vertical": 15.9, "Horizontal": 12.5},
      {"run": "285.8 eV", "E": 287.0, "Vertical": 13.3, "Horizontal": 12.2},
      {"run": "285.8 eV", "E": 287.3, "Vertical": 12.3, "Horizontal": 12.0},
      {"run": "285.8 eV", "E": 288, "Vertical": 11.9, "Horizontal": 11.9},
      {"run": "285.8 eV", "E": 292, "Vertical": 11.9, "Horizontal": 11.9},
      {"run": "285.8 eV", "E": 296, "Vertical": 11.9, "Horizontal": 11.9},
      {"run": "285.8 eV", "E": 300, "Vertical": 11.8, "Horizontal": 11.8},

      {"run": "284.5 eV", "E": 260, "Vertical": 1.7, "Horizontal": 0.7},
      {"run": "284.5 eV", "E": 262, "Vertical": 1.4, "Horizontal": 0.8},
      {"run": "284.5 eV", "E": 264, "Vertical": 1.2, "Horizontal": 0.9},
      {"run": "284.5 eV", "E": 266, "Vertical": 1.5, "Horizontal": 1.3},
      {"run": "284.5 eV", "E": 268, "Vertical": 2.2, "Horizontal": 2.2},
      {"run": "284.5 eV", "E": 269, "Vertical": 2.7, "Horizontal": 2.7},
      {"run": "284.5 eV", "E": 270, "Vertical": 3.1, "Horizontal": 3.2},
      {"run": "284.5 eV", "E": 271, "Vertical": 3.5, "Horizontal": 3.9},
      {"run": "284.5 eV", "E": 272, "Vertical": 4.0, "Horizontal": 4.5},
      {"run": "284.5 eV", "E": 272.5, "Vertical": 4.3, "Horizontal": 4.9},
      {"run": "284.5 eV", "E": 273, "Vertical": 4.7, "Horizontal": 5.4},
      {"run": "284.5 eV", "E": 273.5, "Vertical": 6.7, "Horizontal": 8.2},
      {"run": "284.5 eV", "E": 274, "Vertical": 10.4, "Horizontal": 11.7},
      {"run": "284.5 eV", "E": 274.3, "Vertical": 13.7, "Horizontal": 12.9},
      {"run": "284.5 eV", "E": 274.6, "Vertical": 13.7, "Horizontal": 11.2},
      {"run": "284.5 eV", "E": 274.9, "Vertical": 12.2, "Horizontal": 10.4},
      {"run": "284.5 eV", "E": 275.2, "Vertical": 11.6, "Horizontal": 10.0},
      {"run": "284.5 eV", "E": 275.5, "Vertical": 11.0, "Horizontal": 10.7},
      {"run": "284.5 eV", "E": 275.8, "Vertical": 12.7, "Horizontal": 11.7},
      {"run": "284.5 eV", "E": 276.1, "Vertical": 13.7, "Horizontal": 12.5},
      {"run": "284.5 eV", "E": 276.5, "Vertical": 14.4, "Horizontal": 13.2},
      {"run": "284.5 eV", "E": 276.9, "Vertical": 14.7, "Horizontal": 13.5},
      {"run": "284.5 eV", "E": 277.2, "Vertical": 14.9, "Horizontal": 13.2},
      {"run": "284.5 eV", "E": 277.5, "Vertical": 15.2, "Horizontal": 13.3},
      {"run": "284.5 eV", "E": 277.8, "Vertical": 14.7, "Horizontal": 12.7},
      {"run": "284.5 eV", "E": 278.1, "Vertical": 12.7, "Horizontal": 11.2},
      {"run": "284.5 eV", "E": 278.3, "Vertical": 11.0, "Horizontal": 10.2},
      {"run": "284.5 eV", "E": 278.6, "Vertical": 13.0, "Horizontal": 12.2},
      {"run": "284.5 eV", "E": 278.9, "Vertical": 14.6, "Horizontal": 13.5},
      {"run": "284.5 eV", "E": 279.1, "Vertical": 14.8, "Horizontal": 13.7},
      {"run": "284.5 eV", "E": 279.4, "Vertical": 13.4, "Horizontal": 10.7},
      {"run": "284.5 eV", "E": 279.7, "Vertical": 10.7, "Horizontal": 6.2},
      {"run": "284.5 eV", "E": 280.0, "Vertical": 7.2, "Horizontal": 3.7},
      {"run": "284.5 eV", "E": 280.3, "Vertical": 5.0, "Horizontal": 2.7},
      {"run": "284.5 eV", "E": 280.6, "Vertical": 5.4, "Horizontal": 2.9},
      {"run": "284.5 eV", "E": 280.9, "Vertical": 7.4, "Horizontal": 3.9},
      {"run": "284.5 eV", "E": 281.1, "Vertical": 8.2, "Horizontal": 4.4},
      {"run": "284.5 eV", "E": 281.4, "Vertical": 8.0, "Horizontal": 4.5},
      {"run": "284.5 eV", "E": 281.7, "Vertical": 6.2, "Horizontal": 3.5},
      {"run": "284.5 eV", "E": 282.0, "Vertical": 5.8, "Horizontal": 3.2},
      {"run": "284.5 eV", "E": 282.3, "Vertical": 7.2, "Horizontal": 3.9},
      {"run": "284.5 eV", "E": 282.5, "Vertical": 7.7, "Horizontal": 4.5},
      {"run": "284.5 eV", "E": 282.8, "Vertical": 7.0, "Horizontal": 4.2},
      {"run": "284.5 eV", "E": 283.1, "Vertical": 4.2, "Horizontal": 3.2},
      {"run": "284.5 eV", "E": 283.4, "Vertical": 3.5, "Horizontal": 1.7},
      {"run": "284.5 eV", "E": 283.6, "Vertical": 5.7, "Horizontal": 2.2},
      {"run": "284.5 eV", "E": 283.8, "Vertical": 8.0, "Horizontal": 3.2},
      {"run": "284.5 eV", "E": 283.9, "Vertical": 12.0, "Horizontal": 3.7},
      {"run": "284.5 eV", "E": 284.0, "Vertical": 30.0, "Horizontal": 4.2},
      {"run": "284.5 eV", "E": 284.05, "Vertical": 45.0, "Horizontal": 4.7},
      {"run": "284.5 eV", "E": 284.1, "Vertical": 58.0, "Horizontal": 5.2},
      {"run": "284.5 eV", "E": 284.2, "Vertical": 66.0, "Horizontal": 6.4},
      {"run": "284.5 eV", "E": 284.3, "Vertical": 67.0, "Horizontal": 7.1},
      {"run": "284.5 eV", "E": 284.4, "Vertical": 62.0, "Horizontal": 7.3},
      {"run": "284.5 eV", "E": 284.5, "Vertical": 52.0, "Horizontal": 7.4},
      {"run": "284.5 eV", "E": 284.6, "Vertical": 43.0, "Horizontal": 7.2},
      {"run": "284.5 eV", "E": 284.7, "Vertical": 33.0, "Horizontal": 6.4},
      {"run": "284.5 eV", "E": 284.8, "Vertical": 20.0, "Horizontal": 5.4},
      {"run": "284.5 eV", "E": 284.9, "Vertical": 11.0, "Horizontal": 4.7},
      {"run": "284.5 eV", "E": 285.0, "Vertical": 7.8, "Horizontal": 4.0},
      {"run": "284.5 eV", "E": 285.3, "Vertical": 4.7, "Horizontal": 2.5},
      {"run": "284.5 eV", "E": 285.7, "Vertical": 2.7, "Horizontal": 1.4},
      {"run": "284.5 eV", "E": 286.3, "Vertical": 1.4, "Horizontal": 1.0},
      {"run": "284.5 eV", "E": 287, "Vertical": 1.0, "Horizontal": 0.8},
      {"run": "284.5 eV", "E": 288, "Vertical": 0.9, "Horizontal": 0.8},
      {"run": "284.5 eV", "E": 292, "Vertical": 0.8, "Horizontal": 0.8},
      {"run": "284.5 eV", "E": 296, "Vertical": 0.8, "Horizontal": 0.8},
      {"run": "284.5 eV", "E": 300, "Vertical": 0.8, "Horizontal": 0.8}
    ]
  },
  "resolve": {"axis": {"x": "independent"}},
  "layer": [
    {
      "data": {"name": "spectra"},
      "mark": {"type": "line", "color": "#1f2a24", "strokeWidth": 1.7, "strokeDash": [1.6, 2.6]},
      "encoding": {
        "x": {
          "field": "E", "type": "quantitative",
          "scale": {"domain": [260, 300], "nice": false, "zero": false},
          "axis": {"orient": "bottom", "values": [260,261,262,263,264,265,266,267,268,269,270,271,272,273,274,275,276,277,278,279,280,281,282,283,284,285,286,287,288,289,290,291,292,293,294,295,296,297,298,299,300], "tickSize": 7, "labels": false, "title": null}
        },
        "y": {"field": "Horizontal", "type": "quantitative", "scale": {"domain": [0, 99.8], "nice": false, "zero": false}, "axis": null},
        "detail": {"field": "run"}
      }
    },
    {
      "data": {"name": "spectra"},
      "mark": {"type": "line", "color": "#1f2a24", "strokeWidth": 2},
      "encoding": {
        "x": {
          "field": "E", "type": "quantitative",
          "axis": {
            "orient": "bottom", "values": [260, 265, 270, 275, 280, 285, 290, 295, 300], "tickSize": 14,
            "labelExpr": "datum.value % 10 === 0 ? datum.label : ''",
            "labelFont": "Liberation Sans", "labelFontSize": 27, "labelColor": "#2b322e", "labelPadding": 14,
            "labelFlush": false, "labelOverlap": false,
            "title": "Energy (eV)", "titleFont": "Liberation Sans", "titleFontSize": 26, "titleFontWeight": "bold",
            "titleColor": "#1f2a24", "titlePadding": 15
          }
        },
        "y": {"field": "Vertical", "type": "quantitative", "axis": null},
        "detail": {"field": "run"}
      }
    },
    {
      "data": {"name": "labels"},
      "mark": {"type": "text", "font": "Liberation Sans", "fontSize": 25, "color": "#2b322e", "align": "center", "baseline": "middle"},
      "encoding": {
        "x": {
          "field": "E", "type": "quantitative",
          "axis": {"orient": "top", "values": [260, 265, 270, 275, 280, 285, 290, 295, 300], "tickSize": 14, "labels": false, "title": null}
        },
        "y": {"field": "I", "type": "quantitative", "axis": null},
        "text": {"field": "label"}
      }
    },
    {
      "data": {"values": [{}]},
      "mark": {"type": "text", "text": "C K-emission of C", "font": "Liberation Sans", "fontWeight": "bold", "fontSize": 37, "color": "#1f2a24", "align": "left", "baseline": "alphabetic"},
      "encoding": {
        "x": {
          "datum": 261.27, "type": "quantitative",
          "axis": {"orient": "top", "values": [260,261,262,263,264,265,266,267,268,269,270,271,272,273,274,275,276,277,278,279,280,281,282,283,284,285,286,287,288,289,290,291,292,293,294,295,296,297,298,299,300], "tickSize": 7, "labels": false, "title": null}
        },
        "y": {"datum": 94.9, "type": "quantitative", "axis": null}
      }
    },
    {
      "data": {"values": [{}]},
      "mark": {"type": "text", "text": "60", "font": "Liberation Sans", "fontWeight": "bold", "fontSize": 24, "color": "#1f2a24", "align": "left", "baseline": "alphabetic"},
      "encoding": {
        "x": {"datum": 280.66, "type": "quantitative", "axis": null},
        "y": {"datum": 93.5, "type": "quantitative", "axis": null}
      }
    },
    {
      "data": {"values": [{"polarization": "Horizontal"}, {"polarization": "Vertical"}]},
      "mark": {"type": "point", "filled": false, "color": "#1f2a24", "opacity": 0},
      "encoding": {
        "shape": {
          "field": "polarization", "type": "nominal",
          "scale": {
            "domain": ["Horizontal", "Vertical"],
            "range": [
              "M0.11,0A0.11,0.11,0,1,1,-0.11,0A0.11,0.11,0,1,1,0.11,0M0.06,0A0.06,0.06,0,1,1,-0.06,0A0.06,0.06,0,1,1,0.06,0M0.02,0A0.02,0.02,0,1,1,-0.02,0A0.02,0.02,0,1,1,0.02,0",
              "M-1,0H1"
            ]
          },
          "legend": {
            "title": null, "orient": "none", "legendX": 401, "legendY": 22, "padding": 10,
            "strokeColor": "#1f2a24", "fillColor": "white",
            "symbolSize": 4225, "symbolOffset": 10, "symbolStrokeWidth": 2,
            "symbolStrokeColor": "#1f2a24", "symbolFillColor": "#1f2a24", "symbolOpacity": 1,
            "labelFont": "Liberation Sans", "labelFontSize": 25, "labelColor": "#2b322e",
            "labelOffset": 14, "labelLimit": 300, "clipHeight": 29, "rowPadding": 0
          }
        }
      }
    }
  ]
}
